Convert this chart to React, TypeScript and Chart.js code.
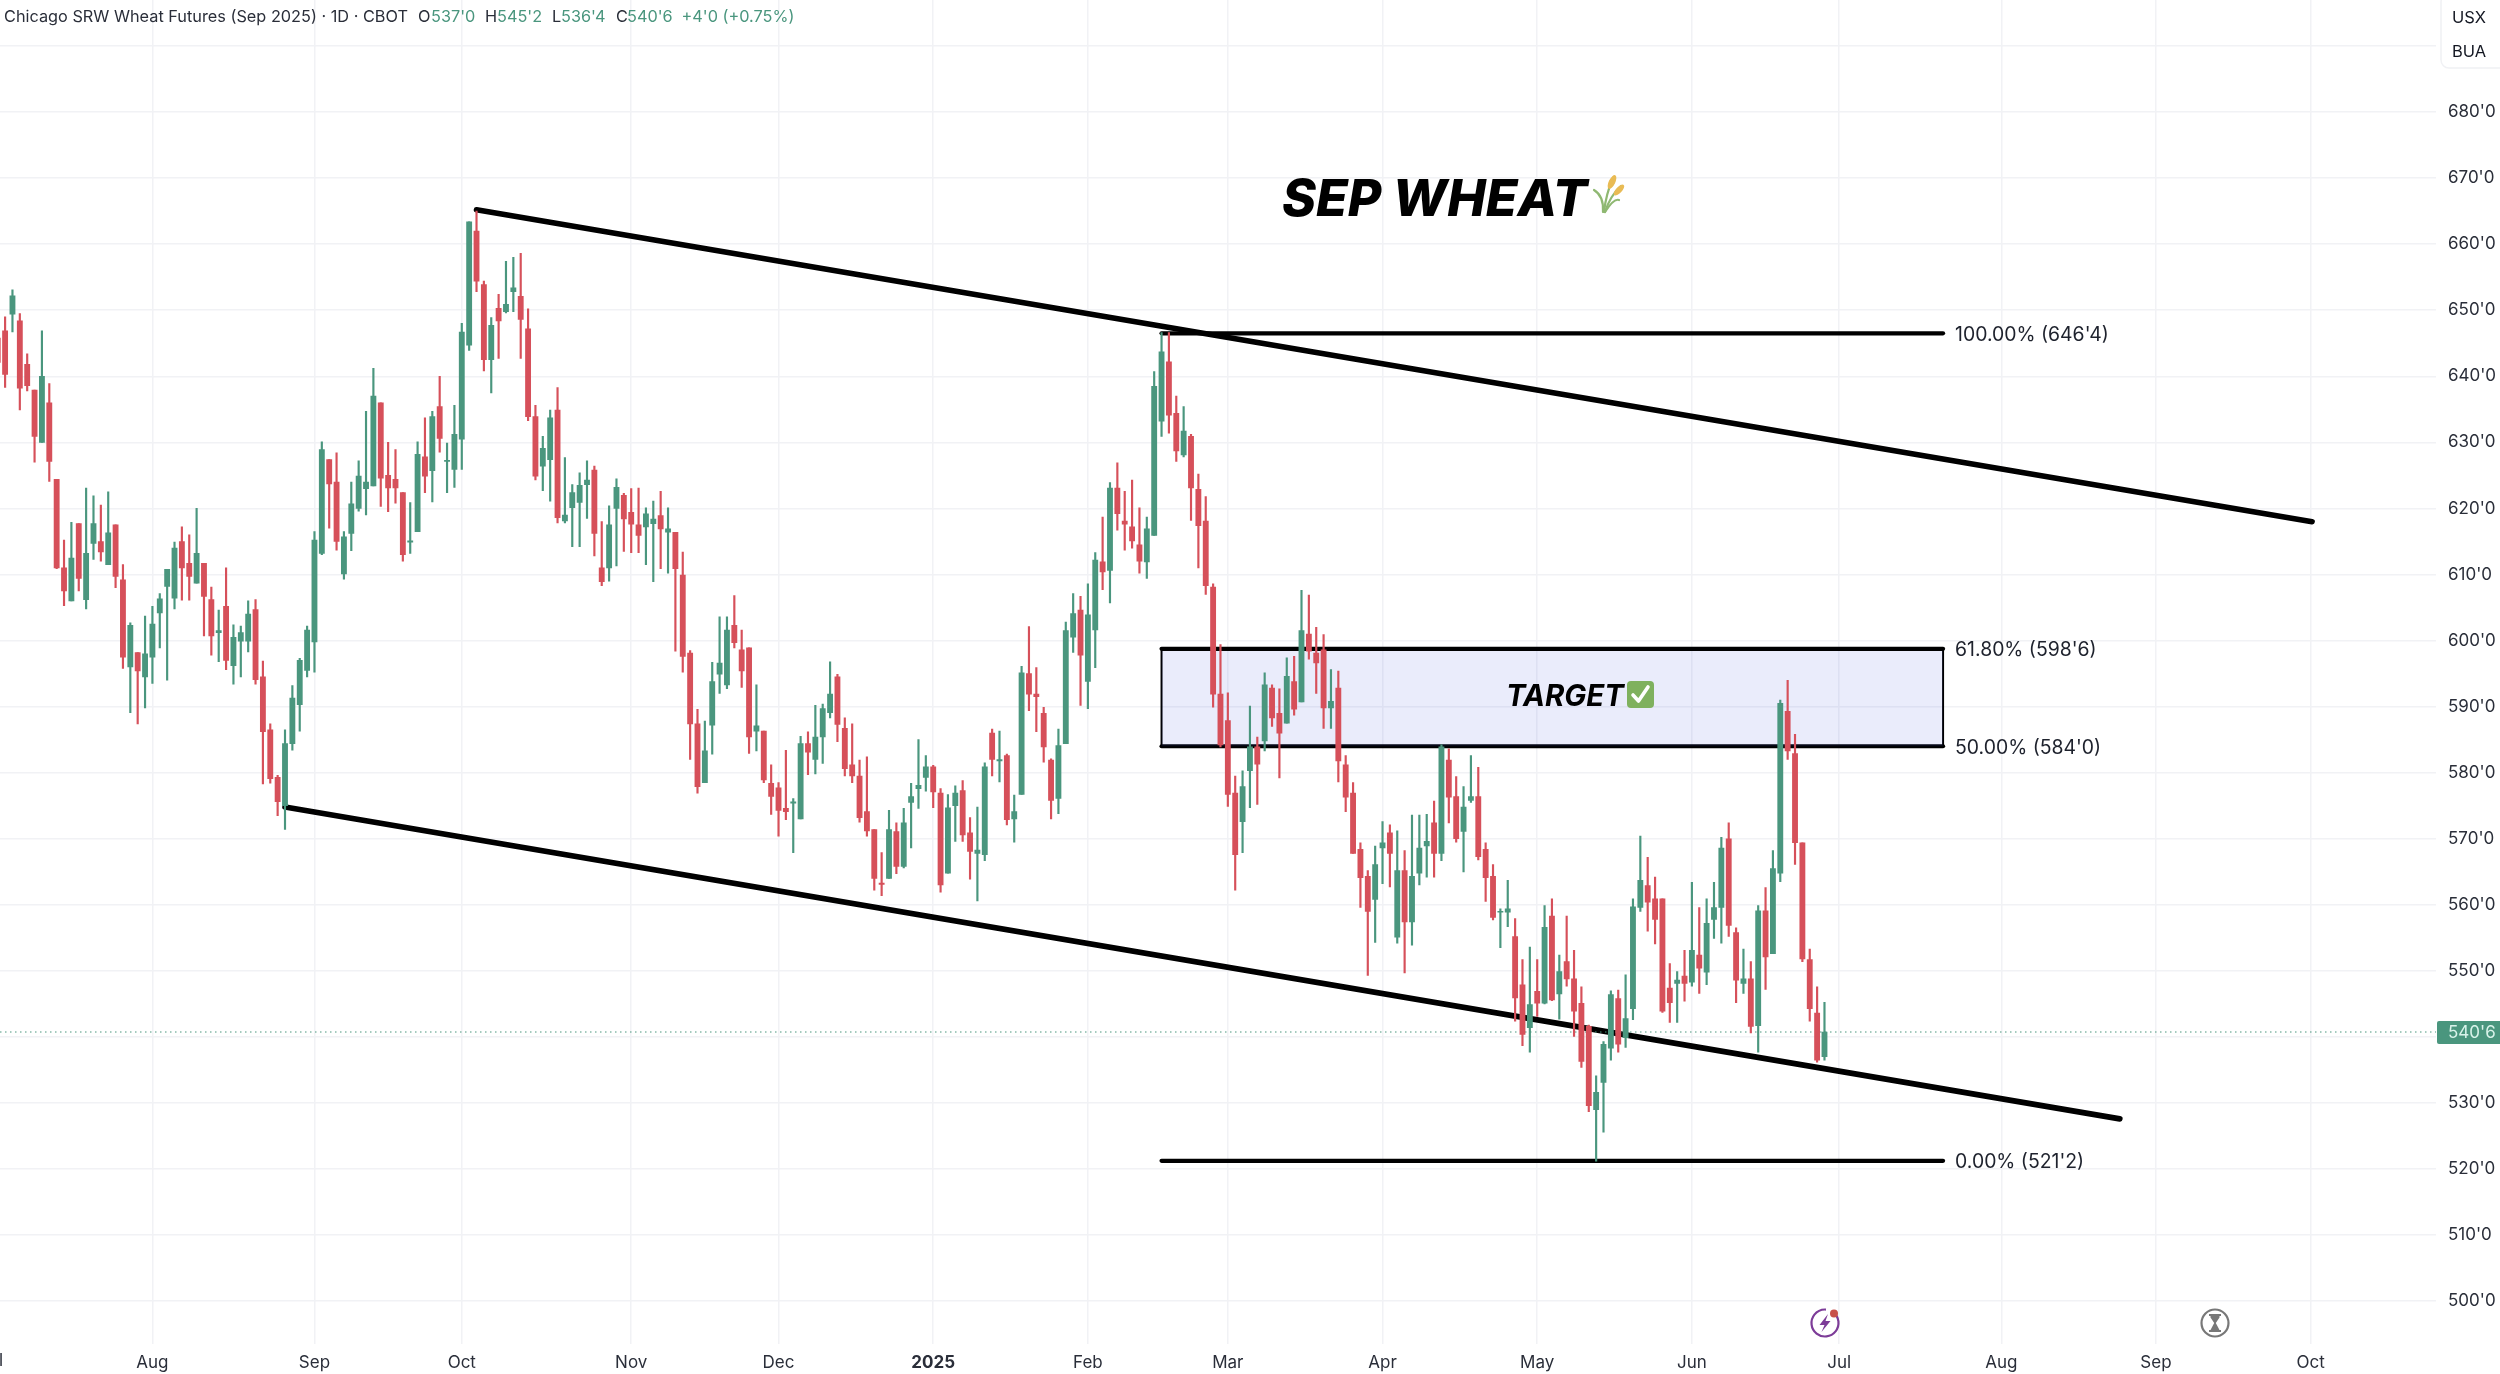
import React, { useEffect, useRef } from "react";
import { Chart, registerables } from "chart.js";

Chart.register(...registerables);

const FIRST_BAR = -1;

const opens = [
  645.8, 646.9, 649.4, 648.4, 641.8, 637.9, 630, 636, 624.4, 611,
  606, 617.7, 606.2, 614.7, 615, 611.5, 617.5, 609.2, 596, 598.2,
  594.5, 597.5, 604.2, 608.2, 606.4, 615, 611.7, 608.7, 611.7, 606.2,
  601.2, 605.2, 596.2, 599.9, 599.9, 604.7, 594.5, 586.5, 579.3, 575,
  584.4, 590.3, 595.5, 599.8, 613.2, 627.4, 624, 610.1, 616.2, 620,
  623, 623.4, 636, 625, 624.4, 622.4, 614.9, 616.5, 627.8, 625.7,
  635.4, 627.1, 625.9, 630.5, 644.7, 662, 653.9, 642.5, 650.3, 649.8,
  652.8, 652.1, 647.2, 633.9, 626.4, 627.4, 634.9, 618.1, 620.1, 620.9,
  623.6, 625.8, 611, 611, 620, 622, 619.4, 617.5, 617.2, 617.7,
  618.9, 616.4, 616.4, 609.9, 598.1, 587.4, 578.5, 587.2, 594.9, 593.3,
  602.3, 598.6, 598.9, 586.3, 586.3, 578.4, 577.7, 574.6, 575.4, 573,
  584.4, 582, 585.4, 589.1, 594.5, 586.7, 581.2, 579.5, 574.1, 571.4,
  563.3, 564, 571.1, 565.8, 575.5, 577.6, 579.3, 580.9, 576.9, 564.8,
  575, 577.3, 570.9, 567.8, 567.6, 586, 581.8, 582.6, 573, 576.7,
  595, 591.9, 589, 581.9, 576.1, 584.4, 600.5, 604.6, 593.8, 601.6,
  611.9, 610.6, 623.1, 618.1, 617.2, 614.5, 611.9, 615.9, 633.2, 642.2,
  634.4, 628.1, 630.9, 622.9, 618.1, 608.1, 591.9, 587.9, 576.9, 572.6,
  580.3, 583.9, 584.8, 592.8, 589, 587.5, 593.8, 590.7, 601, 598.1,
  598.6, 589.8, 592.8, 581.2, 576.9, 568.4, 564.3, 560.8, 568.6, 570.9,
  555.1, 565.2, 557.4, 564.8, 568.9, 572.4, 567.8, 581.9, 576.4, 571.1,
  575.8, 576.4, 568.4, 564.3, 558.9, 558.9, 555.2, 547.9, 541.4, 546.9,
  545.1, 558.3, 546.5, 551.4, 548.8, 545.1, 541.6, 529, 533.1, 538.3,
  545.8, 539.9, 544.3, 559.6, 562.9, 560.9, 560.9, 547.4, 548.1, 549.2,
  548.3, 552.4, 549.8, 557.8, 559.6, 570, 555.8, 548.1, 548.8, 541.7,
  559.1, 552.6, 564.8, 589.3, 582.9, 569.4, 551.7, 543.6, 537,
];
const highs = [
  648, 649, 653.1, 649.5, 643.4, 637.9, 646.9, 638.9, 624.4, 615.2,
  617.9, 617.7, 623.1, 621.9, 620.5, 622.5, 617.5, 611.5, 602.7, 598.2,
  603.7, 605.2, 607.1, 610.8, 614.9, 617.2, 616, 620, 611.7, 608.1,
  604.6, 611, 602.4, 602.2, 606, 606.2, 596.9, 587.4, 579.6, 586.5,
  593.2, 597.3, 602.2, 616.5, 630.1, 627.4, 628.4, 616.5, 624, 627.2,
  634.7, 641.2, 636, 630, 628.9, 622.4, 620.9, 630.1, 633.7, 634.7,
  640, 629.9, 635.6, 648, 663.4, 665, 654.4, 648.9, 652.4, 657.4,
  658, 658.6, 650.2, 635.6, 630.9, 634.9, 638.3, 627.7, 623.6, 625.4,
  627.2, 626.4, 618, 620.4, 624.5, 622.3, 623, 623.1, 620.1, 621.1,
  622.6, 620.1, 616.4, 613.4, 598.5, 589.6, 587.8, 596.7, 603.6, 603.6,
  606.8, 601.6, 598.9, 593.3, 586.3, 581.2, 578.5, 583.4, 576.1, 585.5,
  586.2, 590.2, 590.4, 596.8, 594.9, 588.3, 587.4, 581.9, 582.4, 571.4,
  567.9, 574.3, 572.4, 574.6, 578.4, 585, 582.6, 581.1, 577.6, 576.7,
  578, 578.8, 573.2, 574.8, 581.5, 586.6, 586.3, 582.8, 576.6, 596.1,
  602.1, 595.9, 589.9, 582.1, 586.6, 602.8, 607.1, 606.7, 608.6, 613.3,
  618.7, 623.9, 626.9, 622.6, 624.3, 620.1, 618.7, 640.7, 646.6, 646.6,
  637, 635.4, 631.2, 625.2, 621.8, 608.6, 599.4, 592.1, 579.5, 580.3,
  590.1, 585.4, 595.1, 593.3, 592.7, 597.4, 597.6, 607.6, 606.9, 602,
  600.9, 595.6, 595.4, 582.6, 578.5, 569.4, 565.2, 568.9, 572.6, 572.1,
  571.2, 568.2, 573.6, 573.6, 573.7, 575.7, 584.2, 583.6, 579.4, 577.9,
  582.6, 580.8, 569.4, 566.1, 559.4, 563.7, 557.9, 551.7, 553.6, 551.7,
  559.9, 560.9, 552.4, 558.3, 553.1, 547.6, 541.8, 534.1, 539.3, 547,
  547.1, 549.4, 560.9, 570.4, 567.2, 564.2, 560.9, 551.1, 549.9, 553.1,
  563.4, 559.6, 560.9, 563.4, 570.2, 572.4, 556.5, 553.3, 551.4, 559.9,
  562.6, 568.2, 591, 594, 585.8, 569.4, 553.3, 547.6, 545.25,
];
const lows = [
  640, 638.3, 646.7, 634.9, 637.8, 627, 630, 624.1, 610.9, 605.3,
  606, 607.5, 604.8, 612.3, 612, 611.5, 608, 595.8, 589.1, 587.4,
  589.8, 593.5, 598.9, 594, 604.8, 606.1, 606.1, 608.7, 600.7, 597.8,
  596.8, 595.6, 593.4, 594.5, 598.3, 593.4, 578.3, 578.4, 573.5, 571.4,
  583.4, 586.3, 594.5, 595.2, 613, 617, 613.7, 609.3, 613.6, 619.6,
  619, 623.4, 620.3, 619.5, 620.8, 612, 613.2, 616.5, 622.4, 621,
  628.5, 622.4, 623.2, 625.9, 643.9, 652.8, 640.8, 637.5, 642.7, 649.6,
  649.8, 642.7, 633.3, 624.3, 622.7, 621.1, 617.8, 617.8, 614.2, 614.2,
  618.5, 612.8, 608.3, 609, 611.3, 613.5, 613.3, 613.3, 611.5, 608.9,
  610.9, 610.2, 598.4, 595.2, 582, 576.9, 578.5, 582.8, 592, 592.7,
  598.9, 592.9, 582.9, 583.3, 578.5, 573.7, 570.4, 572.9, 567.9, 573,
  579.7, 579.8, 581.4, 588.3, 584.7, 579.5, 578.5, 572.5, 570.4, 562.2,
  561.4, 564, 564.7, 565.6, 568.6, 574.6, 577.2, 574.7, 561.9, 564.8,
  569.6, 569.6, 563.9, 560.6, 566.7, 579.5, 578.6, 572.1, 569.5, 576.7,
  589.4, 586.2, 581.6, 573, 573.8, 584.4, 598.2, 590.2, 589.7, 595.9,
  607.7, 605.7, 616.7, 613.7, 614, 610.2, 609.4, 615.9, 630.9, 631.4,
  627.1, 627.8, 618.2, 611, 607, 589.9, 583.9, 574.9, 562.2, 567.9,
  574.7, 575.2, 583.3, 587, 579.2, 587.5, 588.7, 590.7, 597.2, 592,
  586.7, 586.7, 578.6, 574.1, 567.8, 559.6, 549.3, 554.3, 563.2, 562.7,
  554.2, 549.7, 553.9, 563, 564.2, 564.2, 566.7, 572.4, 569.5, 565,
  575.5, 566.8, 560.5, 557.7, 553.5, 556.7, 542.4, 538.7, 537.7, 543.1,
  545, 545.5, 542.7, 547.7, 540.1, 535.4, 528.7, 521.2, 525.6, 536.5,
  537.7, 538.4, 542.6, 559, 556, 554.1, 543.7, 542.2, 542.2, 545.4,
  547.7, 546.6, 547.9, 554.9, 554.2, 555.2, 545.2, 546.6, 540.6, 537.7,
  547.2, 552.6, 563.5, 582, 566.1, 551.4, 542.4, 536.2, 536.5,
];
const closes = [
  642.1, 640.3, 652.2, 638.2, 638.6, 630.9, 640, 627.1, 611, 607.5,
  612.5, 609.4, 613.2, 617.7, 613.4, 616.3, 609.7, 597.5, 602.3, 595.4,
  598, 602.5, 606.3, 610.8, 614, 611, 609.7, 613.2, 606.7, 600.7,
  601.5, 597, 600.5, 601.2, 604, 594.1, 586.2, 579.1, 575.6, 584.4,
  591.3, 597, 601.6, 615.2, 628.9, 623.7, 615, 615.7, 620.7, 624.9,
  624, 637, 624.6, 623.1, 623.1, 613, 615.1, 628.2, 624.9, 633.9,
  630.6, 627.3, 631.2, 646.7, 663.4, 654.4, 642.5, 647.7, 648.4, 650.9,
  653.4, 648.6, 633.9, 624.9, 629.1, 633.7, 618.6, 619, 622.4, 623.5,
  624.3, 616.2, 608.9, 617.5, 623.2, 618.4, 617.6, 615.9, 619.2, 618.4,
  616.9, 616.9, 610.9, 597.6, 587.4, 577.9, 583.3, 593.8, 596.6, 601.6,
  599.7, 595.4, 585.4, 587.1, 578.9, 576.4, 574.3, 574.1, 575.6, 584.4,
  583.1, 585.4, 589.7, 591.9, 587.3, 580.6, 579.5, 573.2, 571.2, 564,
  563.1, 571.4, 565.8, 572.4, 576.4, 578.1, 580.9, 577.1, 563, 574.7,
  576.9, 570.6, 568.1, 568.3, 580.9, 582, 582, 572.9, 574.1, 595.1,
  591.9, 591.5, 583.9, 575.8, 584.1, 601.5, 604.1, 597.8, 603.9, 612.2,
  610.4, 623.1, 619.2, 617.6, 615.1, 612, 616.9, 638.5, 643.7, 634.1,
  628.7, 631.7, 623.1, 617.4, 608.3, 591.9, 584.2, 576.7, 567.6, 577.9,
  583.9, 581.3, 593.3, 588.3, 586, 594.6, 589.6, 601.5, 598.4, 596.6,
  589.8, 590.8, 581.8, 576.3, 567.8, 564.1, 559, 566.1, 569.4, 567.8,
  565.2, 557.4, 564.3, 568.6, 569.6, 567.8, 583.9, 576.3, 570, 574.8,
  576.4, 567.3, 564.1, 558.1, 559, 559.4, 545.9, 540.4, 544.9, 545.1,
  556.6, 545.6, 549.9, 548.8, 543.9, 536.3, 529.6, 531.6, 538.9, 546.4,
  538.9, 542.8, 559.7, 563.7, 560.4, 557.8, 543.9, 545.2, 548.6, 548.1,
  553.1, 550.4, 557.2, 559.6, 568.6, 556.9, 548.6, 548.8, 541.6, 559.1,
  552.1, 565.5, 590.5, 583.3, 569.4, 551.8, 544.3, 536.5, 540.75,
];

const monthBars = [20, 42, 62, 85, 105, 126, 147, 166, 187, 208, 229, 249, 271, 292, 313];
const monthLabels = ["Aug", "Sep", "Oct", "Nov", "Dec", "2025", "Feb", "Mar", "Apr", "May", "Jun", "Jul", "Aug", "Sep", "Oct"];
const YEAR_BAR = 126;
const clippedMonthBar = -1.9;
const clippedMonthLabel = "Jul";

const upperChannelBars = [64, 313.2];
const upperChannelPrices = [665.2, 618];
const lowerChannelBars = [38, 287.1];
const lowerChannelPrices = [574.8, 527.6];

const fibStartBar = 157;
const fibEndBar = 263.1;
const fibPrices = [646.5, 598.75, 584, 521.25];
const fibLabels = ["100.00% (646'4)", "61.80% (598'6)", "50.00% (584'0)", "0.00% (521'2)"];

const lastPrice = 540.75;
const lastPriceLabel = "540'6";
const headerTitle = "Chicago SRW Wheat Futures (Sep 2025) · 1D · CBOT";
const ohlcLetters = ["O", "H", "L", "C"];
const ohlcValues = ["537'0", "545'2", "536'4", "540'6"];
const changeLabel = "+4'0 (+0.75%)";

const X_MIN = -0.692;
const X_MAX = 330.02;
const Y_MIN = 493.6;
const Y_MAX = 696.96;

const GREEN = "#4a967e";
const RED = "#d6505a";
const INK = "#2a2e39";
const FONT = "Inter, 'Noto Sans', sans-serif";

const barX = (i: number) => i + FIRST_BAR;
const seg = (xs: number[], ys: number[]) => xs.map((x, i) => ({ x, y: ys[i] }));
const candleColor = (i: number) => (closes[i] >= opens[i] ? GREEN : RED);

function lineSet(data: any[], width: number, extra: any = {}) {
  return {
    type: "line",
    data,
    borderColor: "#000",
    borderWidth: width,
    borderCapStyle: "round",
    pointRadius: 0,
    pointHoverRadius: 0,
    tension: 0,
    fill: false,
    order: 5,
    ...extra,
  };
}

function drawWheat(ctx: CanvasRenderingContext2D) {
  ctx.save();
  ctx.lineCap = "round";
  ctx.strokeStyle = "#8fb872";
  ctx.lineWidth = 2.2;
  const stems = [
    [1603, 212, 1604, 196, 1594, 190],
    [1604, 212, 1606, 194, 1613, 178],
    [1605, 212, 1610, 196, 1621, 186],
    [1605, 212, 1614, 198, 1619, 200],
  ];
  for (const s of stems) {
    ctx.beginPath();
    ctx.moveTo(s[0], s[1]);
    ctx.quadraticCurveTo(s[2], s[3], s[4], s[5]);
    ctx.stroke();
  }
  ctx.fillStyle = "#e9bb54";
  const ears = [
    [1612, 182, 3.2, 7.5, 0.45],
    [1619, 190, 3, 7, 0.75],
  ];
  for (const e of ears) {
    ctx.beginPath();
    ctx.ellipse(e[0], e[1], e[2], e[3], e[4], 0, Math.PI * 2);
    ctx.fill();
  }
  ctx.restore();
}

function drawCheck(ctx: CanvasRenderingContext2D) {
  ctx.save();
  ctx.fillStyle = "#7fb15e";
  ctx.beginPath();
  ctx.roundRect(1627, 681, 27, 27, 4);
  ctx.fill();
  ctx.strokeStyle = "#fff";
  ctx.lineWidth = 3.6;
  ctx.lineCap = "round";
  ctx.lineJoin = "round";
  ctx.beginPath();
  ctx.moveTo(1633, 695);
  ctx.lineTo(1638.5, 701);
  ctx.lineTo(1648, 687);
  ctx.stroke();
  ctx.restore();
}

function drawBolt(ctx: CanvasRenderingContext2D) {
  ctx.save();
  ctx.strokeStyle = "#7d3c98";
  ctx.lineWidth = 2.2;
  ctx.beginPath();
  ctx.arc(1825, 1323, 13.5, -0.9, Math.PI * 2 - 1.5);
  ctx.stroke();
  ctx.fillStyle = "#7d3c98";
  ctx.beginPath();
  ctx.moveTo(1828, 1314);
  ctx.lineTo(1819.5, 1325);
  ctx.lineTo(1824.5, 1325);
  ctx.lineTo(1821.5, 1332);
  ctx.lineTo(1830.5, 1321);
  ctx.lineTo(1825.5, 1321);
  ctx.closePath();
  ctx.fill();
  ctx.fillStyle = "#c8504a";
  ctx.beginPath();
  ctx.arc(1834, 1313.5, 4, 0, Math.PI * 2);
  ctx.fill();
  ctx.restore();
}

function drawHourglass(ctx: CanvasRenderingContext2D) {
  ctx.save();
  ctx.strokeStyle = "#787878";
  ctx.lineWidth = 2.2;
  ctx.beginPath();
  ctx.arc(2215, 1323, 13.5, 0, Math.PI * 2);
  ctx.stroke();
  ctx.fillStyle = "#787878";
  ctx.fillRect(2209, 1314, 12, 2);
  ctx.fillRect(2209, 1330, 12, 2);
  ctx.beginPath();
  ctx.moveTo(2210.5, 1316);
  ctx.lineTo(2219.5, 1316);
  ctx.lineTo(2219.5, 1317.5);
  ctx.lineTo(2215.8, 1323);
  ctx.lineTo(2219.5, 1330);
  ctx.lineTo(2210.5, 1330);
  ctx.lineTo(2214.2, 1323);
  ctx.lineTo(2210.5, 1317.5);
  ctx.closePath();
  ctx.fill();
  ctx.restore();
}

const overlay = {
  id: "overlay",
  afterDraw(chart: any) {
    const { ctx, scales } = chart;
    const { x, y } = scales;
    ctx.save();
    ctx.textBaseline = "middle";
    ctx.textAlign = "left";

    // header
    ctx.font = `400 16.3px ${FONT}`;
    ctx.fillStyle = INK;
    ctx.fillText(headerTitle, 4, 17.5);
    const letterX = [418, 485, 552, 616];
    const valueX = [431, 497, 561, 627];
    ohlcLetters.forEach((l, i) => {
      ctx.fillStyle = INK;
      ctx.fillText(l, letterX[i], 17.5);
      ctx.fillStyle = GREEN;
      ctx.fillText(ohlcValues[i], valueX[i], 17.5);
    });
    ctx.fillText(changeLabel, 681.5, 17.5);

    // currency box
    ctx.strokeStyle = "#f0f1f4";
    ctx.fillStyle = "#fff";
    ctx.lineWidth = 1.5;
    ctx.beginPath();
    ctx.roundRect(2441, -6, 70, 74, 8);
    ctx.fill();
    ctx.stroke();
    ctx.fillStyle = "#131722";
    ctx.font = `400 16.5px ${FONT}`;
    ctx.textAlign = "center";
    ctx.fillText("USX", 2469, 18);
    ctx.fillText("BUA", 2469, 52);

    // last price badge
    const py = y.getPixelForValue(lastPrice);
    ctx.fillStyle = GREEN;
    ctx.beginPath();
    ctx.roundRect(2437, py - 11, 70, 23, 2);
    ctx.fill();
    ctx.fillStyle = "#d9f3ea";
    ctx.font = `400 17px ${FONT}`;
    ctx.textAlign = "left";
    ctx.fillText(lastPriceLabel, 2448, py + 1);

    // clipped month label at the left edge
    ctx.fillStyle = INK;
    ctx.textAlign = "center";
    ctx.fillText(clippedMonthLabel, x.getPixelForValue(clippedMonthBar), 1361);

    // fib labels
    ctx.textAlign = "left";
    ctx.font = `400 19.4px ${FONT}`;
    ctx.fillStyle = "#1e222d";
    fibLabels.forEach((t, i) => {
      ctx.fillText(t, x.getPixelForValue(fibEndBar) + 12, y.getPixelForValue(fibPrices[i]) + 1.5);
    });

    // annotations
    ctx.fillStyle = "#000";
    ctx.textBaseline = "alphabetic";
    ctx.font = `italic 800 51.5px ${FONT}`;
    ctx.fillText("SEP WHEAT", 1282, 215.7);
    ctx.font = `italic 700 29.4px ${FONT}`;
    ctx.fillText("TARGET", 1506, 705.7);
    ctx.restore();

    drawWheat(ctx);
    drawCheck(ctx);
    drawBolt(ctx);
    drawHourglass(ctx);
  },
};

export default function App() {
  const ref = useRef<HTMLCanvasElement>(null);
  useEffect(() => {
    document.body.style.margin = "0";
    const wicks = highs.map((h, i) => ({ x: barX(i), y: [lows[i], h] }));
    const bodies = opens.map((o, i) => ({ x: barX(i), y: [o, closes[i]] }));
    const colors = opens.map((_, i) => candleColor(i));
    const chart = new Chart(ref.current as HTMLCanvasElement, {
      type: "bar",
      data: {
        datasets: [
          lineSet(seg(upperChannelBars, upperChannelPrices), 5.6),
          lineSet(seg(lowerChannelBars, lowerChannelPrices), 5.6),
          lineSet(seg([fibStartBar, fibEndBar], [fibPrices[0], fibPrices[0]]), 4.2),
          lineSet(seg([fibStartBar, fibEndBar], [fibPrices[1], fibPrices[1]]), 4.2, {
            fill: "+1",
            backgroundColor: "rgba(60,80,220,0.11)",
          }),
          lineSet(seg([fibStartBar, fibEndBar], [fibPrices[2], fibPrices[2]]), 4.2),
          lineSet(seg([fibStartBar, fibEndBar], [fibPrices[3], fibPrices[3]]), 4.2),
          lineSet(seg([fibStartBar, fibStartBar], [fibPrices[1], fibPrices[2]]), 2),
          lineSet(seg([fibEndBar, fibEndBar], [fibPrices[1], fibPrices[2]]), 2),
          lineSet(seg([X_MIN, X_MAX], [lastPrice, lastPrice]), 1.2, {
            borderColor: GREEN,
            borderDash: [1.5, 3.5],
            borderCapStyle: "butt",
            order: 4,
          }),
          {
            type: "bar",
            data: wicks,
            backgroundColor: colors,
            barThickness: 1.5,
            grouped: false,
            order: 2,
          },
          {
            type: "bar",
            data: bodies,
            backgroundColor: colors,
            barThickness: 5.2,
            grouped: false,
            order: 1,
          },
        ] as any,
      },
      options: {
        responsive: false,
        devicePixelRatio: 1,
        animation: false,
        maintainAspectRatio: false,
        layout: { padding: 0 },
        plugins: { legend: { display: false }, tooltip: { enabled: false }, title: { display: false } },
        scales: {
          x: {
            type: "linear",
            min: X_MIN,
            max: X_MAX,
            offset: false,
            position: "bottom",
            border: { display: false },
            grid: { color: "#f1f2f5", lineWidth: 1.5, drawTicks: false, offset: false },
            afterBuildTicks(scale: any) {
              scale.ticks = monthBars.map((value) => ({ value }));
            },
            afterFit(scale: any) {
              scale.height = 30.5;
              scale.paddingLeft = 0;
              scale.paddingRight = 0;
            },
            ticks: {
              autoSkip: false,
              maxRotation: 0,
              padding: 9.2,
              color: INK,
              font: (c: any) =>
                c.tick && c.tick.value === YEAR_BAR
                  ? { family: FONT, size: 17, weight: "700" }
                  : { family: FONT, size: 17, weight: "400" },
              callback: (v: any) => {
                const i = monthBars.indexOf(Number(v));
                return i >= 0 ? monthLabels[i] : "";
              },
            },
          },
          y: {
            type: "linear",
            position: "right",
            min: Y_MIN,
            max: Y_MAX,
            border: { display: false },
            grid: { color: "#f1f2f5", lineWidth: 1.5, drawTicks: false },
            afterFit(scale: any) {
              scale.width = 64;
              scale.paddingTop = 0;
              scale.paddingBottom = 0;
            },
            ticks: {
              stepSize: 10,
              includeBounds: false,
              autoSkip: false,
              padding: 12,
              crossAlign: "near",
              color: INK,
              font: { family: FONT, size: 17 },
              callback: (v: any) => (Number(v) >= 690 ? "" : `${v}'0`),
            },
          },
        },
      } as any,
      plugins: [overlay],
    });
    return () => chart.destroy();
  }, []);
  return (
    <canvas
      ref={ref}
      width={2500}
      height={1374}
      style={{ display: "block", position: "absolute", left: 0, top: 0, width: 2500, height: 1374 }}
    />
  );
}
